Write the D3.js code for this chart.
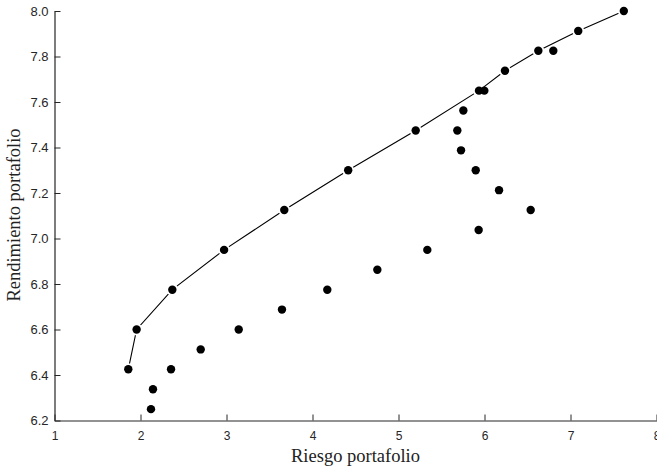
<!DOCTYPE html>
<html>
<head>
<meta charset="utf-8">
<script src="https://cdn.jsdelivr.net/npm/d3@7"></script>
<style>
  html, body { margin: 0; padding: 0; background: #fff; }
  svg { display: block; }
</style>
</head>
<body>
<svg id="chart" width="657" height="469"></svg>
<script>
// Efficient frontier (connected by a line)
const frontierRiesgo      = [1.858, 1.955, 2.370, 2.972, 3.672, 4.415, 5.200, 5.936, 6.238, 6.626, 7.090, 7.620];
const frontierRendimiento = [6.425, 6.600, 6.775, 6.950, 7.125, 7.300, 7.475, 7.650, 7.7375, 7.825, 7.9125, 8.000];
// Other portfolios (markers only)
const otrosRiesgo      = [5.998, 6.800, 5.754, 5.684, 5.727, 5.898, 6.169, 6.537, 5.932, 5.335, 4.754, 4.172, 3.645, 3.142, 2.700, 2.355, 2.145, 2.122];
const otrosRendimiento = [7.650, 7.825, 7.5625, 7.475, 7.3875, 7.300, 7.2125, 7.125, 7.0375, 6.950, 6.8625, 6.775, 6.6875, 6.600, 6.5125, 6.425, 6.3375, 6.250];
// Axis ticks and labels
const xTicks = [1, 2, 3, 4, 5, 6, 7, 8];
const yTicks = [6.2, 6.4, 6.6, 6.8, 7.0, 7.2, 7.4, 7.6, 7.8, 8.0];
const xLabel = "Riesgo portafolio";
const yLabel = "Rendimiento portafolio";

const svg = d3.select("#chart");
const W = 657, H = 469;
const margin = {left: 54.5, right: 0.5, top: 11, bottom: 48.5};

const x = d3.scaleLinear().domain([1, 8]).range([margin.left, W - margin.right]);
const y = d3.scaleLinear().domain([6.2, 8.0]).range([H - margin.bottom, margin.top]);

const axisColor = "#262626";

// X axis (ticks inward)
const gx = svg.append("g")
  .attr("transform", `translate(0,${H - margin.bottom})`)
  .call(d3.axisBottom(x).tickValues(xTicks).tickFormat(d3.format("d")).tickSizeInner(-6).tickSizeOuter(0).tickPadding(11));
// Y axis (ticks inward)
const gy = svg.append("g")
  .attr("transform", `translate(${margin.left},0)`)
  .call(d3.axisLeft(y).tickValues(yTicks).tickFormat(d3.format(".1f")).tickSizeInner(-6).tickSizeOuter(0).tickPadding(6));

[gx, gy].forEach(g => {
  g.select(".domain").attr("stroke", axisColor).attr("stroke-width", 1.2);
  g.selectAll(".tick line").attr("stroke", axisColor).attr("stroke-width", 1);
  g.selectAll(".tick text")
    .attr("fill", axisColor)
    .style("font-family", "'Liberation Sans', Arial, Helvetica, sans-serif");
});
gx.selectAll(".tick text").style("font-size", "12px");
gy.selectAll(".tick text").style("font-size", "13px");

// Axis titles
svg.append("text")
  .attr("x", 355.5).attr("y", 462)
  .attr("text-anchor", "middle")
  .style("font-family", "'Liberation Serif', 'Times New Roman', serif")
  .style("font-size", "18.5px")
  .attr("fill", "#222")
  .text(xLabel);

svg.append("text")
  .attr("transform", "translate(20,215) rotate(-90)")
  .attr("text-anchor", "middle")
  .style("font-family", "'Liberation Serif', 'Times New Roman', serif")
  .style("font-size", "18.5px")
  .attr("fill", "#222")
  .text(yLabel);

// Frontier line
const frontier = frontierRiesgo.map((r, i) => ({r, m: frontierRendimiento[i]}));
const otros = otrosRiesgo.map((r, i) => ({r, m: otrosRendimiento[i]}));

svg.append("path")
  .datum(frontier)
  .attr("fill", "none")
  .attr("stroke", "#000")
  .attr("stroke-width", 1.1)
  .attr("d", d3.line().x(d => x(d.r)).y(d => y(d.m)));

// White halos around frontier markers (gap in line)
svg.append("g").selectAll("circle")
  .data(frontier)
  .join("circle")
  .attr("cx", d => x(d.r)).attr("cy", d => y(d.m))
  .attr("r", 6).attr("fill", "#fff");

// All markers
svg.append("g").selectAll("circle")
  .data(frontier.concat(otros))
  .join("circle")
  .attr("cx", d => x(d.r)).attr("cy", d => y(d.m))
  .attr("r", 4.2).attr("fill", "#000");
</script>
</body>
</html>
